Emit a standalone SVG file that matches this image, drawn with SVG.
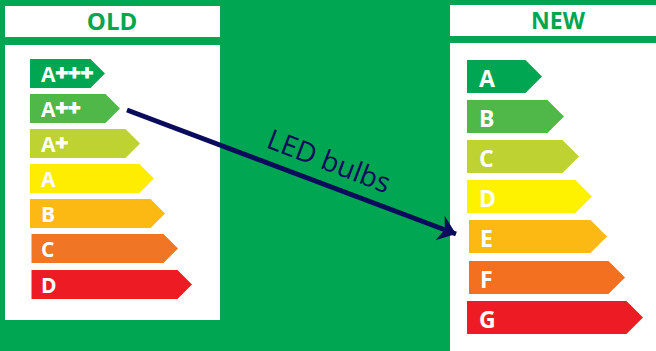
<svg xmlns="http://www.w3.org/2000/svg" width="656" height="351" viewBox="0 0 656 351">
  <style>
    .panel { fill: #ffffff; }
    .head { font-family: "Open Sans", "Liberation Sans", sans-serif; font-weight: 700; fill: #00a651; text-anchor: middle; }
    .lbl { font-family: "Open Sans", "Liberation Sans", sans-serif; font-weight: 700; fill: #ffffff; }
    .old { font-size: 21px; }
    .new { font-size: 23px; }
    .plus { font-size: 22px; stroke: #ffffff; stroke-width: 1.2; }
    .conn { stroke: #0b0b5c; stroke-width: 5; fill: none; }
    .conn-label { font-family: "Open Sans", "DejaVu Sans", sans-serif; font-size: 28px; fill: #0b0b5c; }
  </style>
  <defs>
    <marker id="arrowhead" markerUnits="userSpaceOnUse" markerWidth="22" markerHeight="28" viewBox="-18 -14 22 28" refX="0" refY="0" orient="auto">
      <path d="M0,0 L-17,-13 L-12,0 L-17,13 Z" fill="#0b0b5c"/>
    </marker>
  </defs>

  <!-- background -->
  <rect x="0" y="0" width="656" height="351" fill="#00a651"/>

  <!-- OLD label card -->
  <g id="old-panel">
    <rect class="panel" x="5" y="6" width="215" height="31"/>
    <text class="head" x="112" y="30" font-size="24">OLD</text>
    <rect class="panel" x="5" y="45" width="215" height="275"/>
  </g>

  <g id="old-A3">
    <polygon points="30,59 90.5,59 105,73.5 90.5,88 30,88" fill="#00a651"/>
    <text class="lbl old" x="41" y="82">A<tspan class="plus" y="80">+++</tspan></text>
  </g>
  <g id="old-A2">
    <polygon points="30,94 105.5,94 120,108.5 105.5,123 30,123" fill="#50b848"/>
    <text class="lbl old" x="41" y="117">A<tspan class="plus" y="115">++</tspan></text>
  </g>
  <g id="old-A1">
    <polygon points="30,129 125.5,129 140,143.5 125.5,158 30,158" fill="#bed232"/>
    <text class="lbl old" x="41" y="152">A<tspan class="plus" y="150">+</tspan></text>
  </g>
  <g id="old-A">
    <polygon points="30,164 139.5,164 154,178.5 139.5,193 30,193" fill="#ffed00"/>
    <text class="lbl old" x="41" y="187">A</text>
  </g>
  <g id="old-B">
    <polygon points="30,199 150.5,199 165,213.5 150.5,228 30,228" fill="#fdb913"/>
    <text class="lbl old" x="41" y="222">B</text>
  </g>
  <g id="old-C">
    <polygon points="31.5,234 163.5,234 178,248.5 163.5,263 31.5,263" fill="#f07525"/>
    <text class="lbl old" x="41" y="257">C</text>
  </g>
  <g id="old-D">
    <polygon points="31.5,270 177.5,270 192,284.5 177.5,299 31.5,299" fill="#ed1c24"/>
    <text class="lbl old" x="41" y="293">D</text>
  </g>

  <!-- NEW label card -->
  <g id="new-panel">
    <rect class="panel" x="450" y="5" width="206" height="31"/>
    <text class="head" x="558" y="29" font-size="23">NEW</text>
    <rect class="panel" x="450" y="43" width="206" height="308"/>
  </g>

  <g id="new-A">
    <polygon points="467,60 525.5,60 542,76.5 525.5,93 467,93" fill="#00a651"/>
    <text class="lbl new" x="479" y="87">A</text>
  </g>
  <g id="new-B">
    <polygon points="467,100 547.5,100 564,116.5 547.5,133 467,133" fill="#50b848"/>
    <text class="lbl new" x="479" y="127">B</text>
  </g>
  <g id="new-C">
    <polygon points="467,140 562.5,140 579,156.5 562.5,173 467,173" fill="#bed232"/>
    <text class="lbl new" x="479" y="167">C</text>
  </g>
  <g id="new-D">
    <polygon points="467,180 575.5,180 592,196.5 575.5,213 467,213" fill="#fff200"/>
    <text class="lbl new" x="479" y="207">D</text>
  </g>
  <g id="new-E">
    <polygon points="469,220 590.5,220 607,236.5 590.5,253 469,253" fill="#fdb913"/>
    <text class="lbl new" x="480" y="247">E</text>
  </g>
  <g id="new-F">
    <polygon points="469,261 608.5,261 625,277.5 608.5,294 469,294" fill="#f37021"/>
    <text class="lbl new" x="480" y="288">F</text>
  </g>
  <g id="new-G">
    <polygon points="467,301 626.5,301 643,317.5 626.5,334 467,334" fill="#ed1c24"/>
    <text class="lbl new" x="479" y="328">G</text>
  </g>

  <!-- connector -->
  <g id="connectors">
    <line class="conn" x1="127" y1="110" x2="456" y2="234" marker-end="url(#arrowhead)"/>
    <text class="conn-label" transform="translate(265,147) rotate(21)">LED bulbs</text>
  </g>
</svg>
